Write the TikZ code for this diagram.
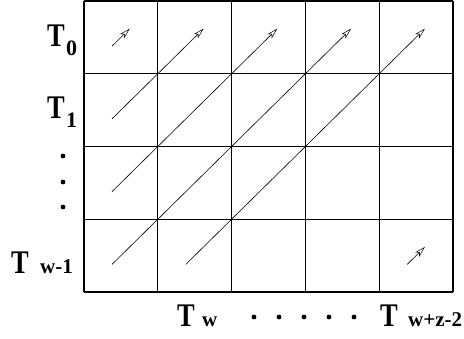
\documentclass[tikz,border=0pt]{standalone}
\usepackage{fontspec}
\setmainfont{Liberation Serif}
\usetikzlibrary{arrows.meta}
\newcommand{\narrowT}{\scalebox{0.8}[1]{T}}
\begin{document}
\begin{tikzpicture}[x=1pt,y=-1pt,
  gridline/.style={line width=1.1pt},
  diag/.style={line width=0.6pt,-{Stealth[open,length=11pt,width=6pt,inset=3pt,line width=0.5pt]}},
  bigT/.style={inner sep=0pt,anchor=base west,font=\bfseries\fontsize{33}{33}\selectfont},
  subT/.style={inner sep=0pt,anchor=base west,font=\bfseries\fontsize{21}{21}\selectfont},
  dotm/.style={circle,fill=black,inner sep=0pt,minimum size=4.8pt}]
\useasboundingbox (0,0) rectangle (464,339);
\def\cw{73.8}\def\ch{72.75}
% grid
\foreach \i in {0,...,5} \draw[gridline] (84+\i*\cw,1) -- (84+\i*\cw,292);
\foreach \j in {0,...,4} \draw[gridline] (84,1+\j*\ch) -- (453,1+\j*\ch);
% cell bottom-left corners: col c, row r -> (84+c*cw, 1+(r+1)*ch)
\foreach \nm/\c/\r/\f in {s1/0/0/0.38, e1/0/0/0.62,
                          s2/0/1/0.38, e2/1/0/0.62,
                          s3/0/2/0.38, e3/2/0/0.62,
                          s4/0/3/0.38, e4/3/0/0.62,
                          s5/1/3/0.38, e5/4/0/0.62,
                          s6/4/3/0.38, e6/4/3/0.62}
  \coordinate (\nm) at (84+\c*\cw+\f*\cw, 1+\r*\ch+\ch-\f*\ch);
\foreach \k in {1,...,6} \draw[diag] (s\k) -- (e\k);
% left labels
\node[bigT] (t0) at (47,47) {\narrowT};
\node[subT,font=\bfseries\fontsize{22}{22}\selectfont] (t0s) at (66,56) {0};
\node[bigT] (t1) at (47,119) {\narrowT};
\node[subT,font=\bfseries\fontsize{22}{22}\selectfont] (t1s) at (66,128) {1};
\node[dotm] (d1) at (63,156) {};
\node[dotm] (d2) at (63,182) {};
\node[dotm] (d3) at (63,207) {};
\node[bigT] (t2) at (11,274) {\narrowT};
\node[subT] (t2s) at (40,274) {w-1};
% bottom labels
\node[bigT] (t3) at (177,327) {\narrowT};
\node[subT] (t3s) at (202,327) {w};
\foreach \x [count=\n] in {254,279,304,329,354} \node[dotm] (b\n) at (\x,317) {};
\node[bigT] (t4) at (380,327) {\narrowT};
\node[subT] (t4s) at (408,327) {w+z-2};
\end{tikzpicture}
\end{document}
